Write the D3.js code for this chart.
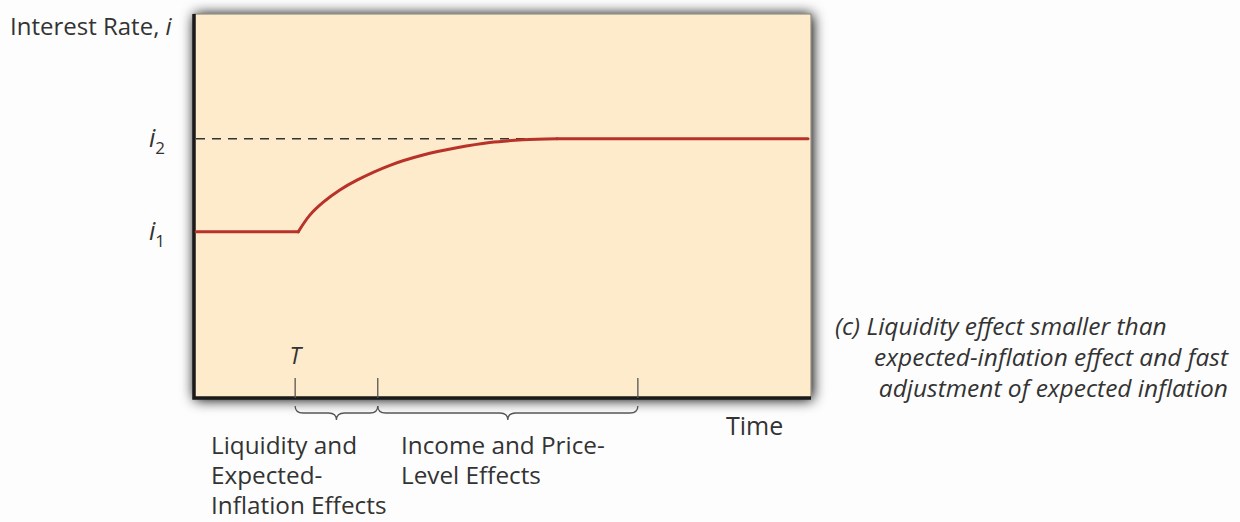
<!DOCTYPE html>
<html>
<head>
<meta charset="utf-8">
<script src="https://cdn.jsdelivr.net/npm/d3@7"></script>
<style>
  body { margin: 0; background: #fdfdfd; }
  svg { display: block; }
  text { font-family: "Open Sans", "Noto Sans", sans-serif; fill: #333; }
</style>
</head>
<body>
<svg id="chart" width="1240" height="522"></svg>
<script>
// path of the interest rate over time (abstract units)
const timeVals = [0, 16.7, 18.6, 20.8, 23.5, 26.3, 31.7, 37.1, 42.6, 48.0, 53.4, 59.0, 100];
const rateVals = [4.0, 4.0, 4.44, 4.78, 5.10, 5.36, 5.75, 6.02, 6.21, 6.35, 6.42, 6.45, 6.45];
const rateLevels = [{ name: "1", value: 4.0 }, { name: "2", value: 6.45 }];
const tickTimes = [16.2, 29.7, 72.2];   // T, end of first phase, end of second phase
const phases = [
  { from: 16.2, to: 29.7, lines: ["Liquidity and", "Expected-", "Inflation Effects"] },
  { from: 29.7, to: 72.2, lines: ["Income and Price-", "Level Effects"] }
];
const captionLines = ["(c) Liquidity effect smaller than", "expected-inflation effect and fast", "adjustment of expected inflation"];

const panel = { left: 194, right: 811, top: 14, bottom: 398 };

const svg = d3.select("#chart");

const x = d3.scaleLinear().domain([0, 100]).range([196, 808]);
const y = d3.scaleLinear().domain([-0.37, 9.73]).range([panel.bottom, panel.top]);

// drop shadow for the plot panel
const defs = svg.append("defs");
const f = defs.append("filter").attr("id", "shadow")
  .attr("x", "-5%").attr("y", "-10%").attr("width", "110%").attr("height", "120%");
f.append("feGaussianBlur").attr("in", "SourceAlpha").attr("stdDeviation", 7).attr("result", "blur");
f.append("feOffset").attr("in", "blur").attr("dx", 1).attr("dy", 1).attr("result", "off");
f.append("feComponentTransfer").attr("in", "off").attr("result", "soft")
  .append("feFuncA").attr("type", "linear").attr("slope", 1.1);
const merge = f.append("feMerge");
merge.append("feMergeNode").attr("in", "soft");
merge.append("feMergeNode").attr("in", "SourceGraphic");

svg.append("rect")
  .attr("x", panel.left).attr("y", panel.top)
  .attr("width", panel.right - panel.left).attr("height", panel.bottom - panel.top)
  .attr("fill", "#fdebcb")
  .attr("stroke", "#7d7d72").attr("stroke-width", 1)
  .attr("filter", "url(#shadow)");

// axes (left and bottom)
svg.append("path")
  .attr("d", `M${panel.left},${panel.top}V${panel.bottom}H${panel.right}`)
  .attr("fill", "none").attr("stroke", "#1a1a1a").attr("stroke-width", 3.5);

// dashed i2 guide
svg.append("line")
  .attr("x1", x(0)).attr("x2", x(timeVals[timeVals.length - 2]))
  .attr("y1", y(rateLevels[1].value)).attr("y2", y(rateLevels[1].value))
  .attr("stroke", "#333").attr("stroke-width", 1.6).attr("stroke-dasharray", "9,7");

// rate path: flat before T, smooth rise, flat at i2
const pts = timeVals.map((t, i) => [t, rateVals[i]]);
const n = pts.length;
const flat = d3.line().x(d => x(d[0])).y(d => y(d[1]));
const smooth = d3.line().x(d => x(d[0])).y(d => y(d[1])).curve(d3.curveCatmullRom.alpha(0.5));
svg.selectAll("path.rate")
  .data([flat(pts.slice(0, 2)), smooth(pts.slice(1, n - 1)), flat(pts.slice(n - 2))])
  .join("path")
  .attr("class", "rate")
  .attr("d", d => d)
  .attr("fill", "none").attr("stroke", "#b8322a").attr("stroke-width", 3)
  .attr("stroke-linecap", "round");

// y labels i1, i2
rateLevels.forEach(l => {
  const t = svg.append("text")
    .attr("x", 149).attr("y", y(l.value) + 8)
    .attr("font-size", 25);
  t.append("tspan").attr("font-style", "italic").text("i");
  t.append("tspan").attr("font-size", 17).attr("dy", 7).text(l.name);
});

svg.append("text").attr("x", 10).attr("y", 35).attr("font-size", 24)
  .text("Interest Rate, ")
  .append("tspan").attr("font-style", "italic").text("i");

// T label and tick marks
svg.append("text").attr("x", x(tickTimes[0])).attr("y", 364)
  .attr("text-anchor", "middle").attr("font-size", 23).attr("font-style", "italic").text("T");

svg.selectAll("line.tick").data(tickTimes).join("line")
  .attr("class", "tick")
  .attr("x1", d => x(d)).attr("x2", d => x(d))
  .attr("y1", 378).attr("y2", panel.bottom)
  .attr("stroke", "#555").attr("stroke-width", 1.3);

// braces under the axis
const brace = (x0, x1, yTop, h) => {
  const m = (x0 + x1) / 2, r = 4;
  return `M${x0},${yTop} Q${x0},${yTop + h / 2} ${x0 + r * 2},${yTop + h / 2}` +
    ` L${m - r * 2},${yTop + h / 2} Q${m},${yTop + h / 2} ${m},${yTop + h}` +
    ` Q${m},${yTop + h / 2} ${m + r * 2},${yTop + h / 2}` +
    ` L${x1 - r * 2},${yTop + h / 2} Q${x1},${yTop + h / 2} ${x1},${yTop}`;
};
svg.selectAll("path.brace").data(phases).join("path")
  .attr("class", "brace")
  .attr("d", d => brace(x(d.from), x(d.to), 406, 14))
  .attr("fill", "none").attr("stroke", "#555").attr("stroke-width", 1.3);

// phase labels
const labelX = [211, 401];
phases.forEach((p, i) => {
  svg.append("text").attr("font-size", 24.3)
    .selectAll("tspan").data(p.lines).join("tspan")
    .attr("x", labelX[i]).attr("y", (d, j) => 454 + j * 30)
    .text(d => d);
});

svg.append("text").attr("x", 726).attr("y", 435).attr("font-size", 25).text("Time");

// caption
svg.append("text").attr("font-size", 24.5).attr("font-style", "italic")
  .selectAll("tspan").data(captionLines).join("tspan")
  .attr("x", (d, i) => i === 0 ? 835 : 1228)
  .attr("text-anchor", (d, i) => i === 0 ? "start" : "end")
  .attr("y", (d, i) => 335 + i * 31)
  .text(d => d);
</script>
</body>
</html>
